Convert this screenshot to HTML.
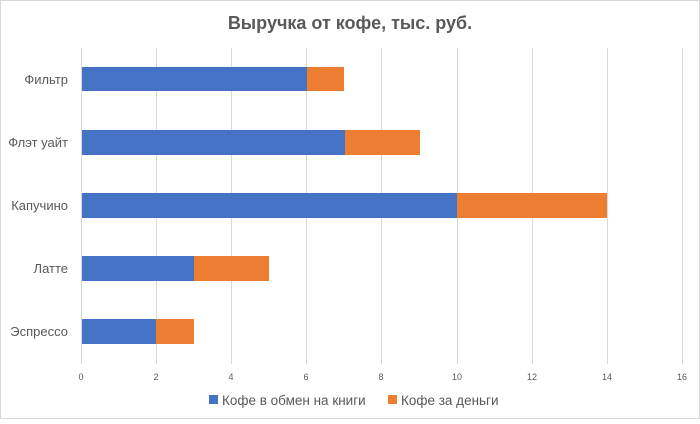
<!DOCTYPE html>
<html><head><meta charset="utf-8"><style>
body{margin:0;background:#fff}
svg text{font-family:"Liberation Sans","DejaVu Sans",sans-serif}
</style></head><body>
<svg width="700" height="419" xmlns="http://www.w3.org/2000/svg">
<rect x="0.5" y="0.5" width="699" height="418" fill="#fff" stroke="#d9d9d9"/>
<text x="350" y="29" text-anchor="middle" font-size="18" font-weight="bold" fill="#595959">Выручка от кофе, тыс. руб.</text>
<g stroke="#d9d9d9" stroke-width="1">
<line x1="81.5" y1="48" x2="81.5" y2="364"/>
<line x1="156.5" y1="48" x2="156.5" y2="364"/>
<line x1="231.5" y1="48" x2="231.5" y2="364"/>
<line x1="306.5" y1="48" x2="306.5" y2="364"/>
<line x1="381.5" y1="48" x2="381.5" y2="364"/>
<line x1="457.5" y1="48" x2="457.5" y2="364"/>
<line x1="532.5" y1="48" x2="532.5" y2="364"/>
<line x1="607.5" y1="48" x2="607.5" y2="364"/>
<line x1="682.5" y1="48" x2="682.5" y2="364"/>
</g>
<g>
<rect x="82" y="67" width="225" height="24" fill="#4472c4"/><rect x="307" y="67" width="37" height="24" fill="#ed7d31"/>
<rect x="82" y="130" width="263" height="25" fill="#4472c4"/><rect x="345" y="130" width="75" height="25" fill="#ed7d31"/>
<rect x="82" y="193" width="375" height="25" fill="#4472c4"/><rect x="457" y="193" width="150" height="25" fill="#ed7d31"/>
<rect x="82" y="256" width="112" height="25" fill="#4472c4"/><rect x="194" y="256" width="75" height="25" fill="#ed7d31"/>
<rect x="82" y="319" width="74" height="25" fill="#4472c4"/><rect x="156" y="319" width="38" height="25" fill="#ed7d31"/>
</g>
<g font-size="13" fill="#595959" text-anchor="end">
<text x="68" y="84">Фильтр</text>
<text x="68" y="147">Флэт уайт</text>
<text x="68" y="210">Капучино</text>
<text x="68" y="273">Латте</text>
<text x="68" y="336">Эспрессо</text>
</g>
<g font-size="9" fill="#595959" text-anchor="middle">
<text x="81" y="380">0</text><text x="156" y="380">2</text><text x="231" y="380">4</text><text x="306" y="380">6</text><text x="381" y="380">8</text><text x="457" y="380">10</text><text x="532" y="380">12</text><text x="607" y="380">14</text><text x="682" y="380">16</text>
</g>
<g font-size="13.5" fill="#595959">
<rect x="209" y="395" width="9" height="9" fill="#4472c4"/><text x="222" y="405">Кофе в обмен на книги</text>
<rect x="388" y="395" width="9" height="9" fill="#ed7d31"/><text x="401" y="405">Кофе за деньги</text>
</g>
</svg>
</body></html>
